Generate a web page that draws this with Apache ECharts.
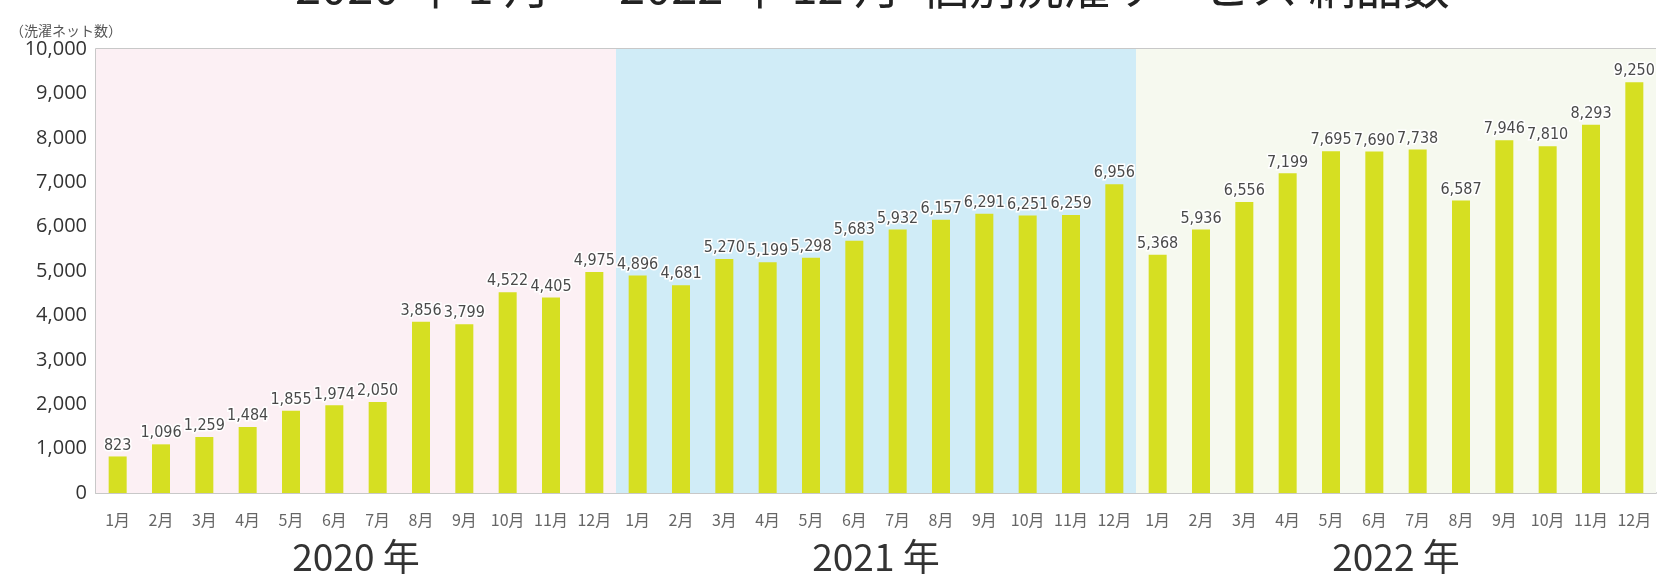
<!DOCTYPE html>
<html>
<head>
<meta charset="utf-8">
<script src="https://cdn.jsdelivr.net/npm/echarts@6/dist/echarts.min.js"></script>
<style>
  html, body { margin: 0; padding: 0; background: #fff; }
  #chart { width: 1674px; height: 588px; }
</style>
</head>
<body>
<div id="chart"></div>
<script>
  // 年
  const years = ["2020", "2021", "2022"];
  const months = [1, 2, 3, 4, 5, 6, 7, 8, 9, 10, 11, 12];
  // 洗濯ネット数
  const values2020 = [823, 1096, 1259, 1484, 1855, 1974, 2050, 3856, 3799, 4522, 4405, 4975];
  const values2021 = [4896, 4681, 5270, 5199, 5298, 5683, 5932, 6157, 6291, 6251, 6259, 6956];
  const values2022 = [5368, 5936, 6556, 7199, 7695, 7690, 7738, 6587, 7946, 7810, 8293, 9250];
  const yTicks = [0, 1000, 2000, 3000, 4000, 5000, 6000, 7000, 8000, 9000, 10000];
  const bandColors = ["#fcf0f4", "#d0ecf7", "#f6f9ef"];

  let cats = [];
  years.forEach(y => months.forEach(m => cats.push(y + "-" + m)));
  let values = values2020.concat(values2021, values2022);

  const chart = echarts.init(document.getElementById("chart"));
  const fmt = n => n.toLocaleString("en-US");

  chart.setOption({
    animation: false,
    title: {
      text: "2020 年 1 月 〜 2022 年 12 月  個別洗濯サービス 納品数",
      left: 290,
      top: -42,
      textStyle: { fontSize: 47, fontWeight: "normal", color: "#222", fontFamily: "Noto Sans CJK JP" }
    },
    graphic: [{
      type: "text",
      left: 10,
      top: 24,
      style: { text: "（洗濯ネット数）", fontSize: 14, fill: "#555", fontFamily: "Noto Sans CJK JP" }
    }],
    grid: { left: 96, right: 18, top: 49, bottom: 95, containLabel: false },
    xAxis: [
      {
        type: "category",
        data: cats,
        axisLine: { lineStyle: { color: "#c8c8c8", width: 2 } },
        axisTick: { show: false },
        axisLabel: {
          interval: 0,
          margin: 19,
          fontSize: 16,
          color: "#666",
          fontFamily: "Noto Sans CJK JP",
          formatter: v => v.split("-")[1] + "月"
        }
      },
      {
        type: "value",
        min: 0,
        max: 36,
        show: false
      },
      {
        type: "category",
        data: years.map(y => y + " 年"),
        position: "bottom",
        offset: 40,
        axisLine: { show: false },
        axisTick: { show: false },
        axisLabel: { margin: 5, fontSize: 37, color: "#333", fontFamily: "Noto Sans CJK JP" }
      }
    ],
    yAxis: {
      type: "value",
      min: 0,
      max: 10000,
      interval: 1000,
      axisLine: { show: true, lineStyle: { color: "#c8c8c8", width: 2 } },
      axisTick: { show: false },
      splitLine: { lineStyle: { color: "#c8c8c8", width: 2 } },
      axisLabel: {
        margin: 9,
        fontSize: 20,
        color: "#333",
        fontFamily: "Open Sans",
        formatter: v => yTicks.indexOf(v) >= 0 ? fmt(v) : ""
      }
    },
    series: [
      {
        type: "line",
        xAxisIndex: 1,
        data: [],
        silent: true,
        markArea: {
          silent: true,
          data: years.map((y, i) => [
            { xAxis: i * 12, yAxis: 0, itemStyle: { color: bandColors[i] } },
            { xAxis: (i + 1) * 12, yAxis: 10000 }
          ])
        },
        z: 0
      },
      {
        type: "bar",
        data: values,
        barWidth: 18,
        itemStyle: { color: "#d6df22" },
        z: 3,
        label: {
          show: true,
          position: "top",
          distance: 3,
          fontSize: 16,
          color: "#4a4a4a",
          fontFamily: "'DejaVu Sans Condensed', 'Noto Sans', sans-serif",
          textBorderColor: "#fff",
          textBorderWidth: 3,
          formatter: p => fmt(p.value)
        }
      }
    ]
  });
</script>
</body>
</html>
